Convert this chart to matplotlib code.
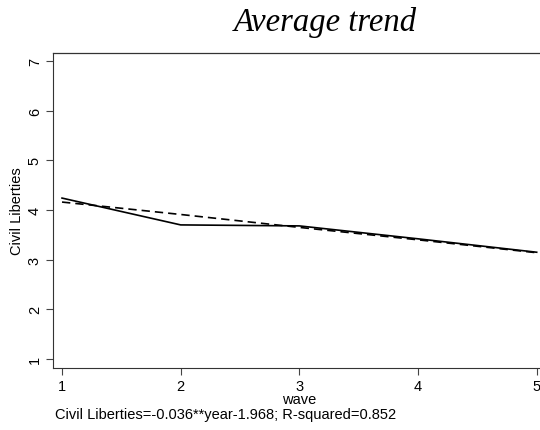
import matplotlib
matplotlib.use("Agg")
import matplotlib.pyplot as plt

waves = [1, 2, 3, 4, 5]
observed = [4.24, 3.70, 3.68, 3.42, 3.15]
fitted = [4.16, 3.91, 3.65, 3.40, 3.14]
xticks = [1, 2, 3, 4, 5]
yticks = [1, 2, 3, 4, 5, 6, 7]
title = "Average trend"
xlabel = "wave"
ylabel = "Civil Liberties"
note = "Civil Liberties=-0.036**year-1.968; R-squared=0.852"

W, H = 540, 431
fig = plt.figure(figsize=(W/100, H/100), dpi=100)
left, right, top, bottom = 53, 545, 54, 369
ax = fig.add_axes([left/W, 1 - bottom/H, (right-left)/W, (bottom-top)/H])

ax.plot(waves, observed, color="black", lw=1.2, solid_joinstyle="miter")
ax.plot(waves, fitted, color="black", lw=1.2, ls=(0, (5, 3)))

ax.set_xlim(0.924, 5.07)
ax.set_ylim(0.82, 7.16)
ax.set_xticks(xticks)
ax.set_yticks(yticks)
ax.tick_params(direction="out", length=5, width=0.8, color="#444444",
               labelsize=10.5, pad=3)
for lab in ax.get_xticklabels() + ax.get_yticklabels():
    lab.set_family("Liberation Sans")
for lab in ax.get_yticklabels():
    lab.set_rotation(90)
    lab.set_va("center")
ax.spines["top"].set_linewidth(0.9)
ax.spines["right"].set_visible(False)
for s in ["left", "bottom", "top"]:
    ax.spines[s].set_color("#333333")

ax.set_xlabel(xlabel, family="Liberation Sans", fontsize=10.5, labelpad=-1)
ax.set_ylabel(ylabel, family="Liberation Sans", fontsize=10.5, labelpad=3)

fig.text(325/W, 1 - 22/H, title, family="Liberation Serif", style="italic",
         fontsize=23.5, ha="center", va="center")
fig.text(55/W, 1 - 415/H, note, family="Liberation Sans", fontsize=10.5,
         ha="left", va="center")

fig.savefig("out.png", dpi=100)
